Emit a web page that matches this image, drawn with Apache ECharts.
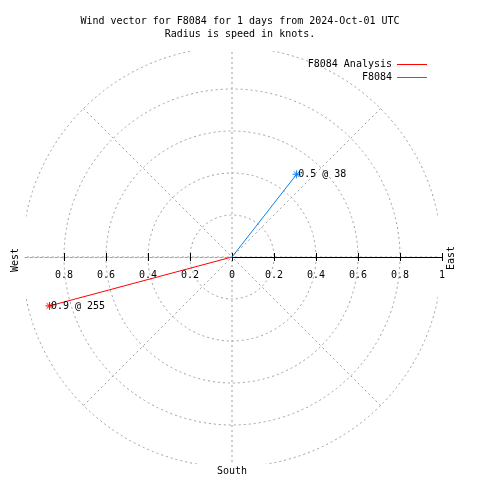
<!DOCTYPE html>
<html>
<head>
<meta charset="utf-8">
<script src="https://cdn.jsdelivr.net/npm/echarts@6/dist/echarts.min.js"></script>
<style>html,body{margin:0;padding:0;background:#fff}#c{width:480px;height:480px}</style>
</head>
<body>
<div id="c"></div>
<script>
// ---- data ----
var seriesNames = ['F8084 Analysis', 'F8084'];
var speeds = [0.9, 0.5];          // knots (radius)
var directions = [255, 38];       // degrees, compass
var seriesColors = ['#ff0000', '#0a7ff0'];
var radiusTicks = [0.2, 0.4, 0.6, 0.8];
var titleLines = ['Wind vector for F8084 for 1 days from 2024-Oct-01 UTC', 'Radius is speed in knots.'];

var FONT = '"DejaVu Sans Mono", "Liberation Mono", monospace';
var FS = 10;
var GRAY = '#a0a0a0';
var CX = 232, CY = 257, R = 210;
var star = 'path://M0,-5L0,5M-5,0L5,0M-3.5,-3.5L3.5,3.5M-3.5,3.5L3.5,-3.5';

var series = seriesNames.map(function (name, i) {
  return {
    name: name,
    type: 'line',
    coordinateSystem: 'polar',
    polarIndex: 0,
    zlevel: 2,
    z: 4,
    animation: false,
    symbol: star,
    symbolSize: 8,
    color: seriesColors[i],
    itemStyle: {color: seriesColors[i], borderColor: seriesColors[i], borderWidth: 1},
    lineStyle: {color: seriesColors[i], width: 1},
    data: [
      {value: [0, directions[i]], symbol: 'none'},
      {value: [speeds[i], directions[i]],
       label: {show: true, position: 'right', distance: -3, color: '#000',
               fontFamily: FONT, fontSize: FS,
               formatter: speeds[i] + ' @ ' + directions[i]}}
    ]
  };
});

function hAxis(grid, pos, opts) {
  var a = {
    type: 'value', gridIndex: grid, position: pos, min: 0, max: 1, interval: 0.2,
    zlevel: 2, z: 3,
    axisLine: {show: true, onZero: false, lineStyle: {color: '#000', width: 1}},
    axisTick: {show: true, length: 4, lineStyle: {color: '#000'}},
    axisLabel: {show: false},
    splitLine: {show: false}
  };
  for (var k in opts) a[k] = opts[k];
  return a;
}

var chart = echarts.init(document.getElementById('c'), null, {renderer: 'canvas'});
chart.setOption({
  animation: false,
  backgroundColor: '#fff',
  title: {
    text: titleLines.join('\n'),
    left: 'center', top: 10, zlevel: 2,
    textStyle: {fontFamily: FONT, fontSize: FS, fontWeight: 'normal', color: '#000', lineHeight: 13}
  },
  legend: {
    orient: 'vertical', right: 48, top: 54, align: 'right', zlevel: 2,
    itemWidth: 30, itemHeight: 1, itemGap: 2,
    itemStyle: {borderWidth: 0},
    lineStyle: {width: 1},
    textStyle: {fontFamily: FONT, fontSize: FS, color: '#000', lineHeight: 11},
    data: seriesNames.map(function (n) { return {name: n, icon: 'rect'}; })
  },
  polar: {center: [CX, CY], radius: R},
  radiusAxis: {
    polarIndex: 0, type: 'value', min: 0, max: 1, interval: 0.2, zlevel: 0,
    axisLine: {show: false}, axisTick: {show: false}, axisLabel: {show: false},
    splitLine: {show: true, lineStyle: {color: GRAY, type: [2, 3], width: 1}}
  },
  angleAxis: {
    polarIndex: 0, type: 'value', min: 0, max: 360, interval: 45, startAngle: 90, clockwise: true, zlevel: 0,
    axisLine: {show: false}, axisTick: {show: false}, axisLabel: {show: false},
    splitLine: {show: true, lineStyle: {color: GRAY, type: [2, 3], width: 1}}
  },
  grid: [
    {left: CX, width: R, top: CY - 50, height: 50},
    {left: CX, width: R, top: CY, height: 50},
    {left: CX - R, width: R, top: CY - 50, height: 50},
    {left: CX - R, width: R, top: CY, height: 50}
  ],
  xAxis: [
    hAxis(0, 'bottom', {axisLabel: {show: true, margin: 13, fontFamily: FONT, fontSize: FS, color: '#000'}}),
    hAxis(1, 'top', {}),
    hAxis(2, 'bottom', {inverse: true,
      axisLine: {show: true, onZero: false, lineStyle: {color: GRAY, width: 1, type: [2, 3]}},
      axisTick: {show: true, length: 4, lineStyle: {color: '#000'}, customValues: radiusTicks},
      axisLabel: {show: true, margin: 13, fontFamily: FONT, fontSize: FS, color: '#000', customValues: radiusTicks}}),
    hAxis(3, 'top', {inverse: true, axisLine: {show: false, onZero: false},
      axisTick: {show: true, length: 4, lineStyle: {color: '#000'}, customValues: radiusTicks}})
  ],
  yAxis: [0, 1, 2, 3].map(function (g) {
    return {type: 'value', gridIndex: g, show: false, min: 0, max: 1};
  }),
  graphic: {
    elements: [
      {type: 'rect', zlevel: 1, z: 1, shape: {x: 0, y: 0, width: 480, height: CY - 206}, style: {fill: '#ffffff'}},
      {type: 'rect', zlevel: 1, z: 1, shape: {x: 0, y: CY + 207, width: 480, height: 20}, style: {fill: '#ffffff'}},
      {type: 'rect', zlevel: 1, z: 1, shape: {x: 0, y: 0, width: CX - 206, height: 480}, style: {fill: '#ffffff'}},
      {type: 'rect', zlevel: 1, z: 1, shape: {x: CX + 206, y: 0, width: 50, height: 480}, style: {fill: '#ffffff'}},
      {type: 'text', zlevel: 2, z: 6, x: 15, y: 260, rotation: Math.PI / 2,
       style: {text: 'West', fontFamily: FONT, fontSize: FS, fill: '#000', align: 'center', verticalAlign: 'middle'}},
      {type: 'text', zlevel: 2, z: 6, x: 451, y: 258, rotation: Math.PI / 2,
       style: {text: 'East', fontFamily: FONT, fontSize: FS, fill: '#000', align: 'center', verticalAlign: 'middle'}},
      {type: 'text', zlevel: 2, z: 6, x: CX, y: 471,
       style: {text: 'South', fontFamily: FONT, fontSize: FS, fill: '#000', align: 'center', verticalAlign: 'middle'}}
    ]
  },
  series: series
});
</script>
</body>
</html>
